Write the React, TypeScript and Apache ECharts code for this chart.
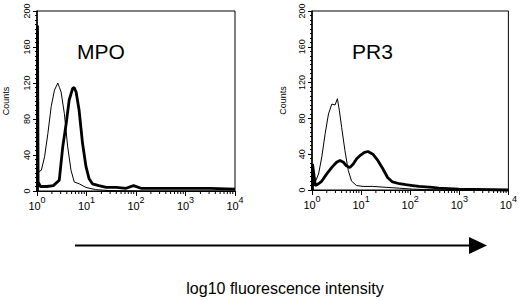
import React, { useEffect, useRef } from "react";
import * as echarts from "echarts";

// x values are log10 fluorescence intensity (0 = 10^0 ... 4 = 10^4), y = counts
const mpoControl: [number, number][] = [
  [0.02, 21], [0.087, 23], [0.153, 38], [0.22, 64], [0.287, 94], [0.353, 112],
  [0.42, 120], [0.453, 115], [0.487, 110], [0.553, 86], [0.62, 49], [0.687, 23],
  [0.753, 10], [0.853, 8], [0.987, 4], [1.187, 1.5], [1.45, 0.5], [2.0, 0], [4.0, 0],
];
const mpoStained: [number, number][] = [
  [0.01, 0], [0.01, 184], [0.022, 10], [0.07, 5], [0.2, 5], [0.33, 6], [0.45, 12], [0.52, 49],
  [0.59, 75], [0.65, 101], [0.72, 114], [0.75, 115], [0.79, 110], [0.85, 90],
  [0.92, 53], [0.99, 27], [1.05, 14], [1.12, 8], [1.25, 6], [1.4, 4], [1.6, 4],
  [1.8, 3], [1.95, 6], [2.1, 3], [2.5, 3], [3.0, 3], [3.5, 3], [4.0, 2],
];
const pr3Control: [number, number][] = [
  [0.013, 29], [0.067, 9], [0.134, 18], [0.2, 37], [0.268, 63], [0.336, 85],
  [0.403, 96], [0.47, 95], [0.517, 102], [0.557, 89], [0.604, 70], [0.671, 44],
  [0.738, 22], [0.805, 10], [0.906, 5], [1.04, 4], [1.24, 4], [1.51, 3],
  [1.78, 2], [2.05, 1], [2.3, 0.5], [2.6, 0], [4.0, 0],
];
const pr3Stained: [number, number][] = [
  [0.01, 0], [0.01, 29], [0.067, 5], [0.134, 7], [0.2, 10], [0.3, 18], [0.4, 25], [0.5, 31],
  [0.57, 33], [0.64, 31], [0.7, 27], [0.77, 25], [0.84, 29], [0.91, 35], [0.97, 38],
  [1.07, 42], [1.14, 43], [1.24, 40], [1.34, 33], [1.44, 24], [1.54, 14], [1.64, 9],
  [1.78, 7], [1.91, 6], [2.05, 5], [2.18, 4], [2.45, 3], [2.58, 2], [2.99, 1], [4.0, 0],
];

const panelTitles = ["MPO", "PR3"];
const decades = [0, 1, 2, 3];
const minorMultipliers = [2, 3, 4, 5, 6, 7, 8, 9];
const yTicks = [0, 40, 80, 120, 160, 200];
const axisTitle = "log10 fluorescence intensity";
const yName = "Counts";

const FONT = "'Liberation Sans', Arial, Helvetica, sans-serif";

export default function App() {
  const ref = useRef<HTMLDivElement>(null);
  useEffect(() => {
    if (!ref.current) return;
    const chart = echarts.init(ref.current, null, { renderer: "svg" });
    const minorTicks: number[][] = [];
    decades.forEach((d) => minorMultipliers.forEach((k) => minorTicks.push([d + Math.log10(k)])));

    const grids = [
      { left: 34, top: 11, width: 201, height: 180 },
      { left: 312, top: 11, width: 198, height: 179 },
    ];
    const xAxis = grids.map((_, i) => ({
      type: "value",
      gridIndex: i,
      min: 0,
      max: 4,
      interval: 1,
      axisLine: { show: true, lineStyle: { color: "#000", width: 1 } },
      axisTick: { show: true, length: 5, lineStyle: { color: "#000" } },
      splitLine: { show: false },
      axisLabel: {
        color: "#000",
        margin: 4,
        fontFamily: FONT,
        formatter: (v: number) => `{b|10}{s|${v}}`,
        rich: {
          b: { fontSize: 11, fontFamily: FONT, color: "#000", verticalAlign: "bottom", lineHeight: 16 },
          s: { fontSize: 9, fontFamily: FONT, color: "#000", verticalAlign: "top", lineHeight: 16 },
        },
      },
    }));
    const yAxis = grids.map((_, i) => ({
      type: "value",
      gridIndex: i,
      min: 0,
      max: 200,
      interval: 40,
      name: yName,
      nameLocation: "middle",
      nameRotate: 90,
      nameGap: i === 0 ? 27 : 25,
      nameTextStyle: { fontSize: 9, color: "#000", fontFamily: FONT },
      axisLine: { show: true, lineStyle: { color: "#000", width: 1.5 } },
      axisTick: { show: true, length: 4, lineStyle: { color: "#000" } },
      minorTick: { show: true, splitNumber: 8, length: 2, lineStyle: { color: "#000" } },
      splitLine: { show: false },
      axisLabel: {
        rotate: 90,
        margin: 6,
        fontSize: 9,
        color: "#000",
        fontFamily: FONT,
        formatter: (v: number) => (yTicks.includes(v) ? String(v) : ""),
      },
    }));

    const lineSeries = (data: [number, number][], idx: number, width: number) => ({
      type: "line",
      xAxisIndex: idx,
      yAxisIndex: idx,
      data,
      showSymbol: false,
      symbol: "none",
      clip: false,
      lineStyle: { color: "#000", width },
      z: 3,
    });
    const minorSeries = (idx: number) => ({
      type: "custom",
      xAxisIndex: idx,
      yAxisIndex: idx,
      data: minorTicks,
      clip: false,
      silent: true,
      renderItem: (_p: any, api: any) => {
        const pt = api.coord([api.value(0), 0]);
        return {
          type: "line",
          shape: { x1: pt[0], y1: pt[1], x2: pt[0], y2: pt[1] + 3 },
          style: { stroke: "#000", lineWidth: 1 },
        };
      },
    });

    chart.setOption({
      animation: false,
      backgroundColor: "#fff",
      grid: grids.map((g) => ({ ...g, show: true, borderColor: "#000", borderWidth: 1, backgroundColor: "transparent" })),
      xAxis,
      yAxis,
      series: [
        lineSeries(mpoControl, 0, 1),
        lineSeries(mpoStained, 0, 2.8),
        lineSeries(pr3Control, 1, 1),
        lineSeries(pr3Stained, 1, 2.8),
        minorSeries(0),
        minorSeries(1),
      ],
      graphic: [
        { type: "text", left: 77, top: 41, style: { text: panelTitles[0], fontSize: 21, fontFamily: FONT, fill: "#000" } },
        { type: "text", left: 352, top: 41, style: { text: panelTitles[1], fontSize: 21, fontFamily: FONT, fill: "#000" } },
        { type: "line", shape: { x1: 75, y1: 245.5, x2: 472, y2: 245.5 }, style: { stroke: "#000", lineWidth: 2 } },
        { type: "polygon", shape: { points: [[469, 237], [487, 245.5], [469, 254]] }, style: { fill: "#000" } },
        {
          type: "text",
          x: 285,
          y: 288,
          style: { text: axisTitle, fontSize: 16, fontFamily: FONT, fill: "#000", align: "center", verticalAlign: "middle" },
        },
      ],
    });
    return () => chart.dispose();
  }, []);
  return <div ref={ref} style={{ width: 520, height: 300, position: "absolute", left: 0, top: 0 }} />;
}
